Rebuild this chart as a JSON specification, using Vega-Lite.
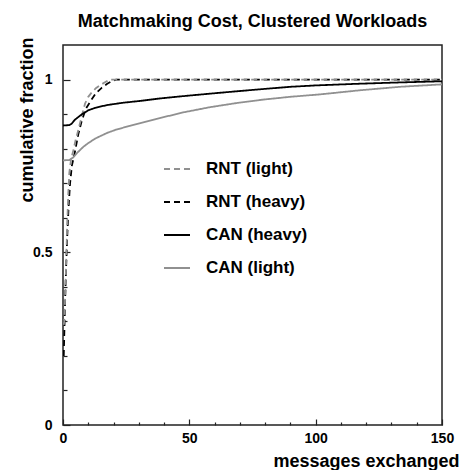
{
  "$schema": "https://vega.github.io/schema/vega-lite/v6.json",
  "width": 379,
  "height": 380,
  "autosize": {"type": "none"},
  "padding": {"left": 63, "top": 45, "right": 20, "bottom": 45},
  "background": "white",
  "title": {
    "text": "Matchmaking Cost, Clustered Workloads",
    "fontSize": 18,
    "fontWeight": "bold",
    "font": "Liberation Sans",
    "frame": "group",
    "anchor": "middle",
    "offset": 6,
    "color": "#000"
  },
  "config": {
    "font": "Liberation Sans",
    "view": {"stroke": "#222", "strokeWidth": 1.5},
    "axis": {
      "domain": false,
      "grid": false,
      "labelFontWeight": "bold",
      "labelFontSize": 14,
      "labelColor": "#000",
      "titleFontWeight": "bold",
      "titleFontSize": 18,
      "titleColor": "#000",
      "tickColor": "#222",
      "tickWidth": 1.2,
      "labelFlush": false,
      "labelOverlap": false
    }
  },
  "data": {
    "values": [
      {"series": "RNT (heavy)", "x": 0.3, "y": 0.2},
      {"series": "RNT (heavy)", "x": 0.5, "y": 0.26},
      {"series": "RNT (heavy)", "x": 0.8, "y": 0.35},
      {"series": "RNT (heavy)", "x": 1.2, "y": 0.45},
      {"series": "RNT (heavy)", "x": 1.7, "y": 0.55},
      {"series": "RNT (heavy)", "x": 2.2, "y": 0.63},
      {"series": "RNT (heavy)", "x": 2.8, "y": 0.7},
      {"series": "RNT (heavy)", "x": 3.5, "y": 0.75},
      {"series": "RNT (heavy)", "x": 4.7, "y": 0.79},
      {"series": "RNT (heavy)", "x": 6, "y": 0.84},
      {"series": "RNT (heavy)", "x": 7.4, "y": 0.88},
      {"series": "RNT (heavy)", "x": 9, "y": 0.915},
      {"series": "RNT (heavy)", "x": 11.3, "y": 0.942},
      {"series": "RNT (heavy)", "x": 13, "y": 0.96},
      {"series": "RNT (heavy)", "x": 15.3, "y": 0.976},
      {"series": "RNT (heavy)", "x": 17.5, "y": 0.988},
      {"series": "RNT (heavy)", "x": 19.3, "y": 0.995},
      {"series": "RNT (heavy)", "x": 21, "y": 1},
      {"series": "RNT (heavy)", "x": 150, "y": 1},
      {"series": "RNT (light)", "x": 0.3, "y": 0.29},
      {"series": "RNT (light)", "x": 0.5, "y": 0.3},
      {"series": "RNT (light)", "x": 1, "y": 0.4},
      {"series": "RNT (light)", "x": 1.7, "y": 0.59},
      {"series": "RNT (light)", "x": 2.1, "y": 0.67},
      {"series": "RNT (light)", "x": 2.5, "y": 0.73},
      {"series": "RNT (light)", "x": 3.2, "y": 0.77},
      {"series": "RNT (light)", "x": 4.1, "y": 0.795},
      {"series": "RNT (light)", "x": 5, "y": 0.825},
      {"series": "RNT (light)", "x": 6.1, "y": 0.855},
      {"series": "RNT (light)", "x": 7.3, "y": 0.89},
      {"series": "RNT (light)", "x": 8.7, "y": 0.93},
      {"series": "RNT (light)", "x": 10, "y": 0.95},
      {"series": "RNT (light)", "x": 11.3, "y": 0.962},
      {"series": "RNT (light)", "x": 13, "y": 0.975},
      {"series": "RNT (light)", "x": 15, "y": 0.985},
      {"series": "RNT (light)", "x": 16.6, "y": 0.992},
      {"series": "RNT (light)", "x": 18.6, "y": 1},
      {"series": "RNT (light)", "x": 150, "y": 1},
      {"series": "CAN (heavy)", "x": 0, "y": 0.867},
      {"series": "CAN (heavy)", "x": 2.5, "y": 0.868},
      {"series": "CAN (heavy)", "x": 3.4, "y": 0.872},
      {"series": "CAN (heavy)", "x": 4.75, "y": 0.884},
      {"series": "CAN (heavy)", "x": 7.4, "y": 0.899},
      {"series": "CAN (heavy)", "x": 10, "y": 0.911},
      {"series": "CAN (heavy)", "x": 12.7, "y": 0.918},
      {"series": "CAN (heavy)", "x": 17.3, "y": 0.926},
      {"series": "CAN (heavy)", "x": 23.9, "y": 0.933},
      {"series": "CAN (heavy)", "x": 30.5, "y": 0.938},
      {"series": "CAN (heavy)", "x": 38, "y": 0.945},
      {"series": "CAN (heavy)", "x": 47.6, "y": 0.952},
      {"series": "CAN (heavy)", "x": 58, "y": 0.959},
      {"series": "CAN (heavy)", "x": 68.7, "y": 0.966},
      {"series": "CAN (heavy)", "x": 80, "y": 0.973},
      {"series": "CAN (heavy)", "x": 90, "y": 0.979},
      {"series": "CAN (heavy)", "x": 100, "y": 0.983},
      {"series": "CAN (heavy)", "x": 117.6, "y": 0.988},
      {"series": "CAN (heavy)", "x": 135, "y": 0.992},
      {"series": "CAN (heavy)", "x": 150, "y": 0.995},
      {"series": "CAN (light)", "x": 0, "y": 0.766},
      {"series": "CAN (light)", "x": 2.5, "y": 0.767},
      {"series": "CAN (light)", "x": 4.1, "y": 0.775},
      {"series": "CAN (light)", "x": 5.5, "y": 0.787},
      {"series": "CAN (light)", "x": 8, "y": 0.805},
      {"series": "CAN (light)", "x": 10, "y": 0.816},
      {"series": "CAN (light)", "x": 12.7, "y": 0.829},
      {"series": "CAN (light)", "x": 17.3, "y": 0.845},
      {"series": "CAN (light)", "x": 21, "y": 0.855},
      {"series": "CAN (light)", "x": 26.5, "y": 0.866},
      {"series": "CAN (light)", "x": 37, "y": 0.886},
      {"series": "CAN (light)", "x": 47.6, "y": 0.905},
      {"series": "CAN (light)", "x": 58.2, "y": 0.92},
      {"series": "CAN (light)", "x": 68.7, "y": 0.932},
      {"series": "CAN (light)", "x": 79.3, "y": 0.942},
      {"series": "CAN (light)", "x": 89.9, "y": 0.95},
      {"series": "CAN (light)", "x": 101.7, "y": 0.957},
      {"series": "CAN (light)", "x": 117.6, "y": 0.969},
      {"series": "CAN (light)", "x": 133.4, "y": 0.979},
      {"series": "CAN (light)", "x": 150, "y": 0.986}
    ]
  },
  "mark": {"type": "line", "strokeWidth": 1.8, "clip": true},
  "encoding": {
    "x": {
      "field": "x",
      "type": "quantitative",
      "scale": {"domain": [0, 150], "nice": false, "zero": false},
      "axis": {
        "values": [0, 10, 20, 30, 40, 50, 60, 70, 80, 90, 100, 110, 120, 130, 140, 150],
        "format": "d",
        "labelExpr": "datum.value % 50 === 0 ? datum.label : ''",
        "tickSize": {"condition": {"test": "datum.value % 50 === 0", "value": -6}, "value": -3},
        "labelPadding": 12,
        "title": "messages exchanged",
        "titleAlign": "right",
        "titleAnchor": "end",
        "titleX": 396,
        "titleY": 41,
        "titleBaseline": "alphabetic"
      }
    },
    "y": {
      "field": "y",
      "type": "quantitative",
      "scale": {"domain": [0, 1.1], "nice": false, "zero": false},
      "axis": {
        "values": [0, 0.1, 0.2, 0.3, 0.4, 0.5, 0.6, 0.7, 0.8, 0.9, 1],
        "labelExpr": "datum.value === 0 ? '0' : datum.value === 0.5 ? '0.5' : datum.value === 1 ? '1' : ''",
        "tickSize": {"condition": {"test": "datum.value === 0 || datum.value === 0.5 || datum.value === 1", "value": -7}, "value": -4},
        "labelPadding": 18,
        "title": "cumulative fraction",
        "titleAngle": 270,
        "titleAlign": "right",
        "titleAnchor": "end",
        "titleX": -31,
        "titleY": -8,
        "titleBaseline": "alphabetic"
      }
    },
    "color": {
      "field": "series",
      "type": "nominal",
      "scale": {
        "domain": ["RNT (light)", "RNT (heavy)", "CAN (heavy)", "CAN (light)"],
        "range": ["#909090", "#000000", "#000000", "#909090"]
      },
      "legend": {
        "orient": "none",
        "legendX": 100,
        "legendY": 110,
        "title": null,
        "padding": 0,
        "symbolType": "stroke",
        "symbolSize": 676,
        "symbolStrokeWidth": 2,
        "labelFontSize": 17,
        "labelFontWeight": "bold",
        "labelColor": "#000",
        "labelOffset": 15,
        "rowPadding": 11
      }
    },
    "strokeDash": {
      "field": "series",
      "type": "nominal",
      "scale": {
        "domain": ["RNT (light)", "RNT (heavy)", "CAN (heavy)", "CAN (light)"],
        "range": [[6, 4], [6, 4], [1, 0], [1, 0]]
      },
      "legend": {
        "orient": "none",
        "legendX": 100,
        "legendY": 110,
        "title": null,
        "padding": 0,
        "symbolType": "stroke",
        "symbolSize": 676,
        "symbolStrokeWidth": 2,
        "labelFontSize": 17,
        "labelFontWeight": "bold",
        "labelColor": "#000",
        "labelOffset": 15,
        "rowPadding": 11
      }
    }
  }
}
